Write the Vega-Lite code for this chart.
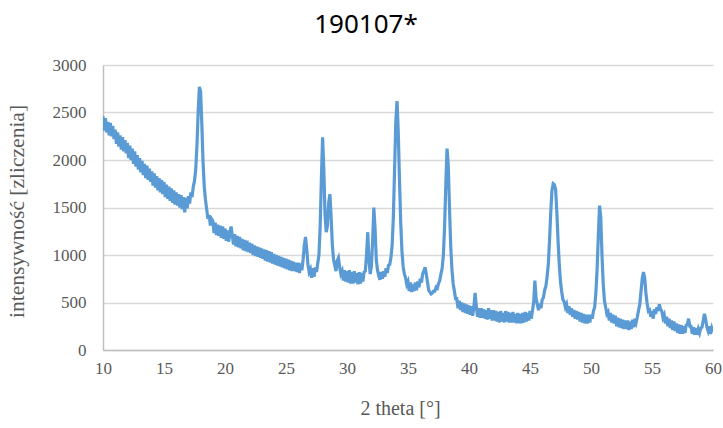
{
  "$schema": "https://vega.github.io/schema/vega-lite/v6.json",
  "autosize": "none",
  "width": 610,
  "height": 285,
  "padding": {"left": 103, "top": 65, "right": 10, "bottom": 78},
  "background": "white",
  "title": {"text": "190107*", "font": "Noto Sans", "fontSize": 26, "fontWeight": "normal", "color": "#000000", "anchor": "middle", "dx": -42, "offset": 18},
  "data": {"values": [
{"t":10.0,"c":2460},{"t":10.1,"c":2310},{"t":10.2,"c":2440},{"t":10.3,"c":2290},{"t":10.4,"c":2400},{"t":10.5,"c":2260},{"t":10.6,"c":2390},{"t":10.7,"c":2250},{"t":10.8,"c":2360},{"t":10.9,"c":2220},
{"t":11.0,"c":2320},{"t":11.1,"c":2170},{"t":11.2,"c":2290},{"t":11.3,"c":2140},{"t":11.4,"c":2260},{"t":11.5,"c":2110},{"t":11.6,"c":2240},{"t":11.7,"c":2090},{"t":11.8,"c":2210},{"t":11.9,"c":2070},
{"t":12.0,"c":2180},{"t":12.1,"c":2020},{"t":12.2,"c":2150},{"t":12.3,"c":2000},{"t":12.4,"c":2120},{"t":12.5,"c":1960},{"t":12.6,"c":2090},{"t":12.7,"c":1930},{"t":12.8,"c":2050},{"t":12.9,"c":1900},
{"t":13.0,"c":2020},{"t":13.1,"c":1870},{"t":13.2,"c":1990},{"t":13.3,"c":1840},{"t":13.4,"c":1960},{"t":13.5,"c":1810},{"t":13.6,"c":1940},{"t":13.7,"c":1790},{"t":13.8,"c":1910},{"t":13.9,"c":1770},
{"t":14.0,"c":1880},{"t":14.1,"c":1730},{"t":14.2,"c":1860},{"t":14.3,"c":1710},{"t":14.4,"c":1830},{"t":14.5,"c":1680},{"t":14.6,"c":1810},{"t":14.7,"c":1660},{"t":14.8,"c":1790},{"t":14.9,"c":1640},
{"t":15.0,"c":1770},{"t":15.1,"c":1610},{"t":15.2,"c":1740},{"t":15.3,"c":1590},{"t":15.4,"c":1720},{"t":15.5,"c":1570},{"t":15.6,"c":1700},{"t":15.7,"c":1550},{"t":15.8,"c":1680},{"t":15.9,"c":1530},
{"t":16.0,"c":1660},{"t":16.1,"c":1520},{"t":16.2,"c":1640},{"t":16.3,"c":1500},{"t":16.4,"c":1630},{"t":16.5,"c":1480},{"t":16.6,"c":1610},{"t":16.7,"c":1450},{"t":16.8,"c":1600},{"t":16.9,"c":1490},
{"t":17.0,"c":1620},{"t":17.1,"c":1540},{"t":17.2,"c":1660},{"t":17.3,"c":1610},{"t":17.4,"c":1720},{"t":17.5,"c":1780},{"t":17.6,"c":1900},{"t":17.7,"c":2150},{"t":17.8,"c":2500},{"t":17.9,"c":2770},
{"t":18.0,"c":2720},{"t":18.1,"c":2380},{"t":18.2,"c":1980},{"t":18.3,"c":1720},{"t":18.4,"c":1580},{"t":18.5,"c":1480},{"t":18.6,"c":1380},{"t":18.7,"c":1420},{"t":18.8,"c":1310},{"t":18.9,"c":1380},
{"t":19.0,"c":1360},{"t":19.1,"c":1230},{"t":19.2,"c":1340},{"t":19.3,"c":1210},{"t":19.4,"c":1320},{"t":19.5,"c":1200},{"t":19.6,"c":1310},{"t":19.7,"c":1180},{"t":19.8,"c":1300},{"t":19.9,"c":1170},
{"t":20.0,"c":1280},{"t":20.1,"c":1150},{"t":20.2,"c":1260},{"t":20.3,"c":1140},{"t":20.4,"c":1240},{"t":20.5,"c":1300},{"t":20.6,"c":1200},{"t":20.7,"c":1110},{"t":20.8,"c":1220},{"t":20.9,"c":1090},
{"t":21.0,"c":1200},{"t":21.1,"c":1080},{"t":21.2,"c":1190},{"t":21.3,"c":1070},{"t":21.4,"c":1170},{"t":21.5,"c":1050},{"t":21.6,"c":1160},{"t":21.7,"c":1040},{"t":21.8,"c":1150},{"t":21.9,"c":1030},
{"t":22.0,"c":1130},{"t":22.1,"c":1020},{"t":22.2,"c":1120},{"t":22.3,"c":1000},{"t":22.4,"c":1100},{"t":22.5,"c":990},{"t":22.6,"c":1090},{"t":22.7,"c":980},{"t":22.8,"c":1080},{"t":22.9,"c":970},
{"t":23.0,"c":1070},{"t":23.1,"c":960},{"t":23.2,"c":1060},{"t":23.3,"c":940},{"t":23.4,"c":1050},{"t":23.5,"c":930},{"t":23.6,"c":1040},{"t":23.7,"c":920},{"t":23.8,"c":1030},{"t":23.9,"c":910},
{"t":24.0,"c":1010},{"t":24.1,"c":900},{"t":24.2,"c":1000},{"t":24.3,"c":890},{"t":24.4,"c":990},{"t":24.5,"c":880},{"t":24.6,"c":980},{"t":24.7,"c":870},{"t":24.8,"c":970},{"t":24.9,"c":860},
{"t":25.0,"c":960},{"t":25.1,"c":850},{"t":25.2,"c":950},{"t":25.3,"c":840},{"t":25.4,"c":940},{"t":25.5,"c":830},{"t":25.6,"c":930},{"t":25.7,"c":830},{"t":25.8,"c":920},{"t":25.9,"c":820},
{"t":26.0,"c":920},{"t":26.1,"c":810},{"t":26.2,"c":910},{"t":26.3,"c":840},{"t":26.4,"c":950},{"t":26.5,"c":1100},{"t":26.6,"c":1190},{"t":26.7,"c":1060},{"t":26.8,"c":900},{"t":26.9,"c":820},
{"t":27.0,"c":850},{"t":27.1,"c":760},{"t":27.2,"c":860},{"t":27.3,"c":770},{"t":27.4,"c":870},{"t":27.5,"c":820},{"t":27.6,"c":910},{"t":27.7,"c":1000},{"t":27.8,"c":1300},{"t":27.9,"c":1800},
{"t":28.0,"c":2240},{"t":28.1,"c":1900},{"t":28.2,"c":1420},{"t":28.3,"c":1240},{"t":28.4,"c":1310},{"t":28.5,"c":1550},{"t":28.6,"c":1640},{"t":28.7,"c":1400},{"t":28.8,"c":1100},{"t":28.9,"c":950},
{"t":29.0,"c":890},{"t":29.1,"c":830},{"t":29.2,"c":940},{"t":29.3,"c":970},{"t":29.4,"c":870},{"t":29.5,"c":800},{"t":29.6,"c":830},{"t":29.7,"c":730},{"t":29.8,"c":840},{"t":29.9,"c":720},
{"t":30.0,"c":830},{"t":30.1,"c":710},{"t":30.2,"c":840},{"t":30.3,"c":700},{"t":30.4,"c":820},{"t":30.5,"c":700},{"t":30.6,"c":830},{"t":30.7,"c":710},{"t":30.8,"c":810},{"t":30.9,"c":690},
{"t":31.0,"c":820},{"t":31.1,"c":700},{"t":31.2,"c":810},{"t":31.3,"c":720},{"t":31.4,"c":820},{"t":31.5,"c":830},{"t":31.6,"c":1000},{"t":31.7,"c":1240},{"t":31.8,"c":950},{"t":31.9,"c":800},
{"t":32.0,"c":880},{"t":32.1,"c":1150},{"t":32.2,"c":1500},{"t":32.3,"c":1280},{"t":32.4,"c":950},{"t":32.5,"c":840},{"t":32.6,"c":780},{"t":32.7,"c":740},{"t":32.8,"c":820},{"t":32.9,"c":750},
{"t":33.0,"c":830},{"t":33.1,"c":770},{"t":33.2,"c":860},{"t":33.3,"c":810},{"t":33.4,"c":890},{"t":33.5,"c":900},{"t":33.6,"c":970},{"t":33.7,"c":1100},{"t":33.8,"c":1400},{"t":33.9,"c":1900},
{"t":34.0,"c":2400},{"t":34.1,"c":2620},{"t":34.2,"c":2300},{"t":34.3,"c":1800},{"t":34.4,"c":1350},{"t":34.5,"c":1050},{"t":34.6,"c":880},{"t":34.7,"c":800},{"t":34.8,"c":760},{"t":34.9,"c":690},
{"t":35.0,"c":720},{"t":35.1,"c":620},{"t":35.2,"c":710},{"t":35.3,"c":610},{"t":35.4,"c":690},{"t":35.5,"c":620},{"t":35.6,"c":710},{"t":35.7,"c":630},{"t":35.8,"c":720},{"t":35.9,"c":660},
{"t":36.0,"c":750},{"t":36.1,"c":710},{"t":36.2,"c":800},{"t":36.3,"c":830},{"t":36.4,"c":870},{"t":36.5,"c":800},{"t":36.6,"c":710},{"t":36.7,"c":630},{"t":36.8,"c":610},{"t":36.9,"c":590},
{"t":37.0,"c":600},{"t":37.1,"c":620},{"t":37.2,"c":620},{"t":37.3,"c":660},{"t":37.4,"c":650},{"t":37.5,"c":700},{"t":37.6,"c":730},{"t":37.7,"c":800},{"t":37.8,"c":860},{"t":37.9,"c":1000},
{"t":38.0,"c":1300},{"t":38.1,"c":1750},{"t":38.2,"c":2120},{"t":38.3,"c":1950},{"t":38.4,"c":1500},{"t":38.5,"c":1100},{"t":38.6,"c":850},{"t":38.7,"c":700},{"t":38.8,"c":620},{"t":38.9,"c":540},
{"t":39.0,"c":540},{"t":39.1,"c":440},{"t":39.2,"c":520},{"t":39.3,"c":420},{"t":39.4,"c":500},{"t":39.5,"c":400},{"t":39.6,"c":490},{"t":39.7,"c":390},{"t":39.8,"c":480},{"t":39.9,"c":380},
{"t":40.0,"c":470},{"t":40.1,"c":370},{"t":40.2,"c":460},{"t":40.3,"c":360},{"t":40.4,"c":450},{"t":40.5,"c":600},{"t":40.6,"c":460},{"t":40.7,"c":350},{"t":40.8,"c":440},{"t":40.9,"c":340},
{"t":41.0,"c":440},{"t":41.1,"c":340},{"t":41.2,"c":430},{"t":41.3,"c":330},{"t":41.4,"c":420},{"t":41.5,"c":320},{"t":41.6,"c":440},{"t":41.7,"c":330},{"t":41.8,"c":420},{"t":41.9,"c":310},
{"t":42.0,"c":420},{"t":42.1,"c":310},{"t":42.2,"c":410},{"t":42.3,"c":300},{"t":42.4,"c":400},{"t":42.5,"c":290},{"t":42.6,"c":410},{"t":42.7,"c":300},{"t":42.8,"c":390},{"t":42.9,"c":290},
{"t":43.0,"c":410},{"t":43.1,"c":300},{"t":43.2,"c":400},{"t":43.3,"c":290},{"t":43.4,"c":390},{"t":43.5,"c":290},{"t":43.6,"c":400},{"t":43.7,"c":290},{"t":43.8,"c":380},{"t":43.9,"c":280},
{"t":44.0,"c":390},{"t":44.1,"c":280},{"t":44.2,"c":380},{"t":44.3,"c":280},{"t":44.4,"c":390},{"t":44.5,"c":290},{"t":44.6,"c":400},{"t":44.7,"c":300},{"t":44.8,"c":390},{"t":44.9,"c":310},
{"t":45.0,"c":410},{"t":45.1,"c":330},{"t":45.2,"c":410},{"t":45.3,"c":500},{"t":45.4,"c":730},{"t":45.5,"c":540},{"t":45.6,"c":480},{"t":45.7,"c":420},{"t":45.8,"c":490},{"t":45.9,"c":440},
{"t":46.0,"c":530},{"t":46.1,"c":550},{"t":46.2,"c":630},{"t":46.3,"c":670},{"t":46.4,"c":770},{"t":46.5,"c":900},{"t":46.6,"c":1150},{"t":46.7,"c":1450},{"t":46.8,"c":1680},{"t":46.9,"c":1750},
{"t":47.0,"c":1740},{"t":47.1,"c":1690},{"t":47.2,"c":1450},{"t":47.3,"c":1150},{"t":47.4,"c":900},{"t":47.5,"c":720},{"t":47.6,"c":610},{"t":47.7,"c":530},{"t":47.8,"c":510},{"t":47.9,"c":450},
{"t":48.0,"c":480},{"t":48.1,"c":390},{"t":48.2,"c":460},{"t":48.3,"c":370},{"t":48.4,"c":440},{"t":48.5,"c":350},{"t":48.6,"c":420},{"t":48.7,"c":330},{"t":48.8,"c":410},{"t":48.9,"c":320},
{"t":49.0,"c":400},{"t":49.1,"c":300},{"t":49.2,"c":390},{"t":49.3,"c":290},{"t":49.4,"c":380},{"t":49.5,"c":280},{"t":49.6,"c":370},{"t":49.7,"c":280},{"t":49.8,"c":370},{"t":49.9,"c":290},
{"t":50.0,"c":370},{"t":50.1,"c":330},{"t":50.2,"c":410},{"t":50.3,"c":450},{"t":50.4,"c":600},{"t":50.5,"c":850},{"t":50.6,"c":1200},{"t":50.7,"c":1520},{"t":50.8,"c":1400},{"t":50.9,"c":1000},
{"t":51.0,"c":700},{"t":51.1,"c":520},{"t":51.2,"c":450},{"t":51.3,"c":380},{"t":51.4,"c":400},{"t":51.5,"c":310},{"t":51.6,"c":390},{"t":51.7,"c":290},{"t":51.8,"c":370},{"t":51.9,"c":280},
{"t":52.0,"c":360},{"t":52.1,"c":250},{"t":52.2,"c":340},{"t":52.3,"c":240},{"t":52.4,"c":330},{"t":52.5,"c":230},{"t":52.6,"c":320},{"t":52.7,"c":220},{"t":52.8,"c":310},{"t":52.9,"c":220},
{"t":53.0,"c":310},{"t":53.1,"c":210},{"t":53.2,"c":300},{"t":53.3,"c":220},{"t":53.4,"c":320},{"t":53.5,"c":240},{"t":53.6,"c":330},{"t":53.7,"c":290},{"t":53.8,"c":350},{"t":53.9,"c":420},
{"t":54.0,"c":480},{"t":54.1,"c":620},{"t":54.2,"c":750},{"t":54.3,"c":820},{"t":54.4,"c":760},{"t":54.5,"c":600},{"t":54.6,"c":490},{"t":54.7,"c":410},{"t":54.8,"c":420},{"t":54.9,"c":350},
{"t":55.0,"c":410},{"t":55.1,"c":330},{"t":55.2,"c":430},{"t":55.3,"c":380},{"t":55.4,"c":450},{"t":55.5,"c":410},{"t":55.6,"c":480},{"t":55.7,"c":430},{"t":55.8,"c":410},{"t":55.9,"c":340},
{"t":56.0,"c":370},{"t":56.1,"c":280},{"t":56.2,"c":350},{"t":56.3,"c":250},{"t":56.4,"c":330},{"t":56.5,"c":230},{"t":56.6,"c":310},{"t":56.7,"c":210},{"t":56.8,"c":300},{"t":56.9,"c":200},
{"t":57.0,"c":280},{"t":57.1,"c":180},{"t":57.2,"c":270},{"t":57.3,"c":170},{"t":57.4,"c":260},{"t":57.5,"c":170},{"t":57.6,"c":250},{"t":57.7,"c":180},{"t":57.8,"c":260},{"t":57.9,"c":270},
{"t":58.0,"c":330},{"t":58.1,"c":250},{"t":58.2,"c":250},{"t":58.3,"c":170},{"t":58.4,"c":240},{"t":58.5,"c":160},{"t":58.6,"c":230},{"t":58.7,"c":160},{"t":58.8,"c":220},{"t":58.9,"c":180},
{"t":59.0,"c":230},{"t":59.1,"c":240},{"t":59.2,"c":310},{"t":59.3,"c":380},{"t":59.4,"c":320},{"t":59.5,"c":240},{"t":59.6,"c":200},{"t":59.7,"c":250},{"t":59.8,"c":170},{"t":59.9,"c":230},
{"t":60.0,"c":190}
  ]},
  "mark": {"type": "line", "color": "#5B9BD5", "strokeWidth": 3.2, "clip": true},
  "encoding": {
    "x": {"field": "t", "type": "quantitative", "scale": {"domain": [10, 60], "nice": false},
      "axis": {"title": "2 theta [°]", "values": [10,15,20,25,30,35,40,45,50,55,60], "format": "d", "grid": false, "ticks": false, "tickSize": 0,
        "domainColor": "#bfbfbf", "domainWidth": 1.5, "labelPadding": 10, "labelFlush": false, "labelOverlap": false, "labelBound": false,
        "labelFont": "Liberation Serif", "labelFontSize": 17, "labelColor": "#595959",
        "titlePadding": 22, "titleX": 297}},
    "y": {"field": "c", "type": "quantitative", "scale": {"domain": [0, 3000], "nice": false},
      "axis": {"title": "intensywność [zliczenia]", "values": [0,500,1000,1500,2000,2500,3000], "format": "d", "grid": true, "gridColor": "#d9d9d9", "gridWidth": 1.5, "ticks": false, "tickSize": 0,
        "domainColor": "#bfbfbf", "domainWidth": 1.5, "labelPadding": 17, "labelFlush": false,
        "labelFont": "Liberation Serif", "labelFontSize": 17, "labelColor": "#595959",
        "titleFontSize": 21.5, "titleX": -75, "titleY": 146}}
  },
  "config": {
    "view": {"stroke": null},
    "axis": {"titleFont": "Liberation Serif", "titleFontSize": 20, "titleFontWeight": "normal", "titleColor": "#595959"}
  }
}
